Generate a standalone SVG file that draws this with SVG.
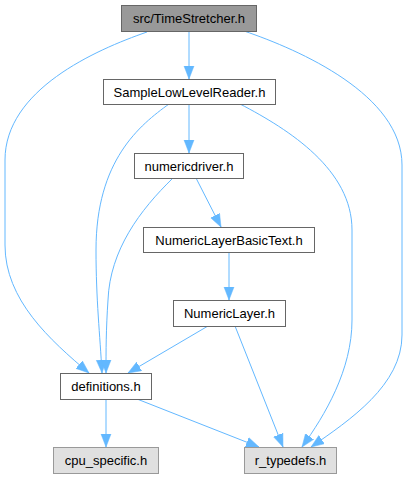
<svg xmlns="http://www.w3.org/2000/svg" width="408" height="478" viewBox="0 0 408 478">
<style>
.n rect{fill:#ffffff;stroke:#666666;stroke-width:1}
.root rect{fill:#999999;stroke:#666666}
.ext rect{fill:#e0e0e0;stroke:#999999}
text{font-family:"Liberation Sans",Arial,sans-serif;font-size:13px;fill:#000;text-anchor:middle}
.e path{fill:none;stroke:#63b8ff;stroke-width:1;marker-end:url(#a)}
</style>
<defs>
<marker id="a" markerUnits="userSpaceOnUse" markerWidth="14" markerHeight="12" refX="13" refY="5.5" orient="auto">
<path d="M0,0.5 L13,5.5 L0,10.5 z" fill="#63b8ff" stroke="#63b8ff" stroke-width="0.5"/>
</marker>
</defs>
<rect width="408" height="478" fill="#ffffff"/>
<g class="e" id="edges">
<path d="M189,31 L189,79"/>
<path d="M147,32 C95,50 5,90 5,160 L5,245 C5,300 50,340 89,373"/>
<path d="M244,31 C300,50 402,95 402,165 L402,335 C402,385 350,420 311,447"/>
<path d="M189,104 L189,153"/>
<path d="M169,104 C140,125 96,160 96,250 C96,300 100,335 102,373"/>
<path d="M240,104 C290,130 352,170 352,230 L352,320 C352,370 325,415 302,447"/>
<path d="M196,178 L221,227"/>
<path d="M173,178 C140,210 110,250 108,300 C106,330 106,350 106,373"/>
<path d="M229,252 L229,300"/>
<path d="M208,326 L128,373"/>
<path d="M235,326 L283,447"/>
<path d="M106,399 L106,447"/>
<path d="M137,399 L259,447"/>
</g>
<g id="n1" class="n root"><rect x="121.5" y="5.5" width="135" height="26"/><text x="189" y="23">src/TimeStretcher.h</text></g>
<g id="n2" class="n"><rect x="103.5" y="79.5" width="172" height="25"/><text x="189.5" y="97">SampleLowLevelReader.h</text></g>
<g id="n3" class="n"><rect x="134.5" y="153.5" width="109" height="25"/><text x="189" y="171">numericdriver.h</text></g>
<g id="n4" class="n"><rect x="143.5" y="227.5" width="171" height="25"/><text x="229" y="245">NumericLayerBasicText.h</text></g>
<g id="n5" class="n"><rect x="173.5" y="300.5" width="112" height="26"/><text x="229.5" y="318">NumericLayer.h</text></g>
<g id="n6" class="n"><rect x="60.5" y="373.5" width="91" height="26"/><text x="106" y="391">definitions.h</text></g>
<g id="n7" class="n ext"><rect x="53.5" y="447.5" width="105" height="26"/><text x="106" y="465">cpu_specific.h</text></g>
<g id="n8" class="n ext"><rect x="244.5" y="447.5" width="92" height="26"/><text x="290.5" y="465">r_typedefs.h</text></g>
</svg>
